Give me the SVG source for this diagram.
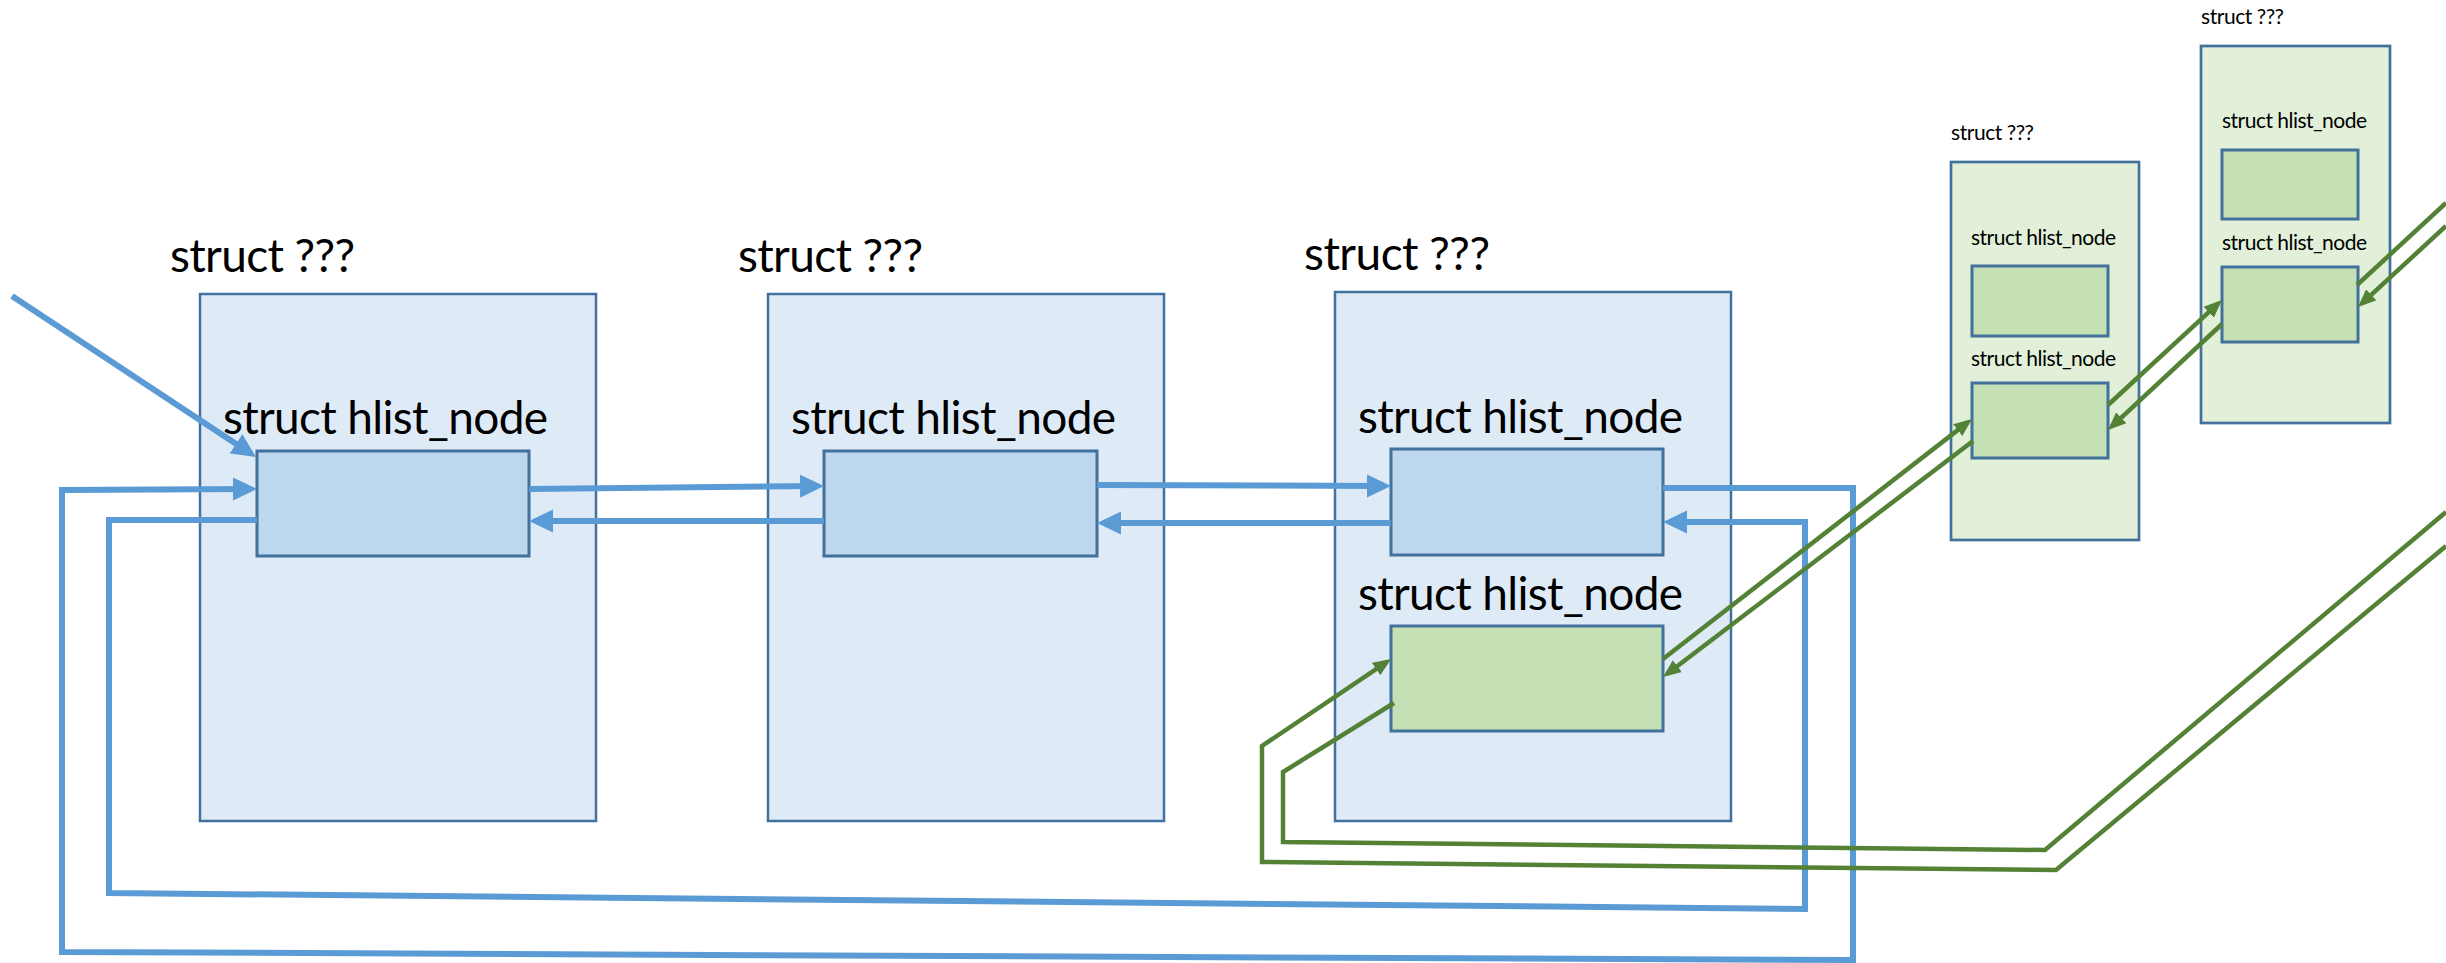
<svg xmlns="http://www.w3.org/2000/svg" width="2446" height="963" viewBox="0 0 2446 963">
  <style>
    .wrap-blue { fill: #DEEBF7; stroke: #41719C; stroke-width: 2.5; }
    .node-blue { fill: #BDD7EE; stroke: #41719C; stroke-width: 3; }
    .wrap-green { fill: #E2F0D9; stroke: #41719C; stroke-width: 2.7; }
    .node-green { fill: #C5E0B4; stroke: #41719C; stroke-width: 3; }
    text { font-family: Lato, Carlito, "Liberation Sans", sans-serif; fill: #000; }
    .big { font-size: 46px; }
    .small { font-size: 21px; }
    .link-blue { fill: none; stroke: #5B9BD5; stroke-width: 6; stroke-linejoin: miter; }
    .link-green { fill: none; stroke: #538135; stroke-width: 4.5; stroke-linejoin: miter; }
  </style>
  <defs>
    <marker id="head-blue" markerUnits="userSpaceOnUse" markerWidth="24" markerHeight="24" viewBox="0 0 24 24" refX="18" refY="12" orient="auto">
      <path d="M0,0.5 L24,12 L0,23.5 Z" fill="#5B9BD5"/>
    </marker>
    <marker id="head-green" markerUnits="userSpaceOnUse" markerWidth="18" markerHeight="16" viewBox="0 0 18 16" refX="13" refY="8" orient="auto">
      <path d="M0,0.5 L18,8 L0,15.5 Z" fill="#538135"/>
    </marker>
  </defs>

  <!-- large containers on the main chain -->
  <g id="struct-1">
    <text class="big" x="170" y="272" textLength="185">struct ???</text>
    <rect class="wrap-blue" x="200" y="294" width="396" height="527"/>
    <text class="big" x="223" y="434" textLength="325">struct hlist_node</text>
    <rect id="hnode-1" class="node-blue" x="257" y="451" width="272" height="105"/>
  </g>
  <g id="struct-2">
    <text class="big" x="738" y="272" textLength="185">struct ???</text>
    <rect class="wrap-blue" x="768" y="294" width="396" height="527"/>
    <text class="big" x="791" y="434" textLength="325">struct hlist_node</text>
    <rect id="hnode-2" class="node-blue" x="824" y="451" width="273" height="105"/>
  </g>
  <g id="struct-3">
    <text class="big" x="1304" y="270" textLength="186">struct ???</text>
    <rect class="wrap-blue" x="1335" y="292" width="396" height="529"/>
    <text class="big" x="1358" y="433" textLength="325">struct hlist_node</text>
    <rect id="hnode-3a" class="node-blue" x="1391" y="449" width="272" height="106"/>
    <text class="big" x="1358" y="610" textLength="325">struct hlist_node</text>
    <rect id="hnode-3b" class="node-green" x="1391" y="626" width="272" height="105"/>
  </g>

  <!-- small containers on the secondary chain -->
  <g id="struct-a">
    <text class="small" x="1951" y="140" textLength="83">struct ???</text>
    <rect class="wrap-green" x="1951" y="162" width="188" height="378"/>
    <text class="small" x="1971" y="245" textLength="145">struct hlist_node</text>
    <rect id="hnode-a1" class="node-green" x="1972" y="266" width="136" height="70"/>
    <text class="small" x="1971" y="366" textLength="145">struct hlist_node</text>
    <rect id="hnode-a2" class="node-green" x="1972" y="383" width="136" height="75"/>
  </g>
  <g id="struct-b">
    <text class="small" x="2201" y="24" textLength="83">struct ???</text>
    <rect class="wrap-green" x="2201" y="46" width="189" height="377"/>
    <text class="small" x="2222" y="128" textLength="145">struct hlist_node</text>
    <rect id="hnode-b1" class="node-green" x="2222" y="150" width="136" height="69"/>
    <text class="small" x="2222" y="250" textLength="145">struct hlist_node</text>
    <rect id="hnode-b2" class="node-green" x="2222" y="267" width="136" height="75"/>
  </g>

  <g id="connectors">
    <!-- blue chain: head pointer, next / pprev links and wrap-around loops -->
    <line class="link-blue" x1="12" y1="296" x2="251" y2="453.7" marker-end="url(#head-blue)"/>
    <line class="link-blue" x1="529" y1="489" x2="818" y2="486" marker-end="url(#head-blue)"/>
    <line class="link-blue" x1="824" y1="521" x2="535" y2="521" marker-end="url(#head-blue)"/>
    <line class="link-blue" x1="1097" y1="485" x2="1385" y2="486" marker-end="url(#head-blue)"/>
    <line class="link-blue" x1="1391" y1="523" x2="1103" y2="523" marker-end="url(#head-blue)"/>
    <polyline class="link-blue" points="1663,488 1853,488 1853,960 62,952 62,490 251,489" marker-end="url(#head-blue)"/>
    <polyline class="link-blue" points="257,520 109,520 109,893 1805,909 1805,522 1669,522" marker-end="url(#head-blue)"/>

    <!-- green chain -->
    <line class="link-green" x1="1663" y1="659" x2="1968" y2="422.1" marker-end="url(#head-green)"/>
    <line class="link-green" x1="1973" y1="441" x2="1667" y2="674" marker-end="url(#head-green)"/>
    <line class="link-green" x1="2108" y1="405" x2="2218.3" y2="303.4" marker-end="url(#head-green)"/>
    <line class="link-green" x1="2222" y1="324" x2="2111.7" y2="426.6" marker-end="url(#head-green)"/>
    <line class="link-green" x1="2357" y1="285" x2="2446" y2="203"/>
    <line class="link-green" x1="2446" y1="226" x2="2361.7" y2="303.6" marker-end="url(#head-green)"/>
    <polyline class="link-green" points="2446,546 2056,870 1262,862 1262,746 1386.9,661.8" marker-end="url(#head-green)"/>
    <polyline class="link-green" points="1394,703 1283,772 1283,842 2045,850 2446,512"/>
  </g>
</svg>
